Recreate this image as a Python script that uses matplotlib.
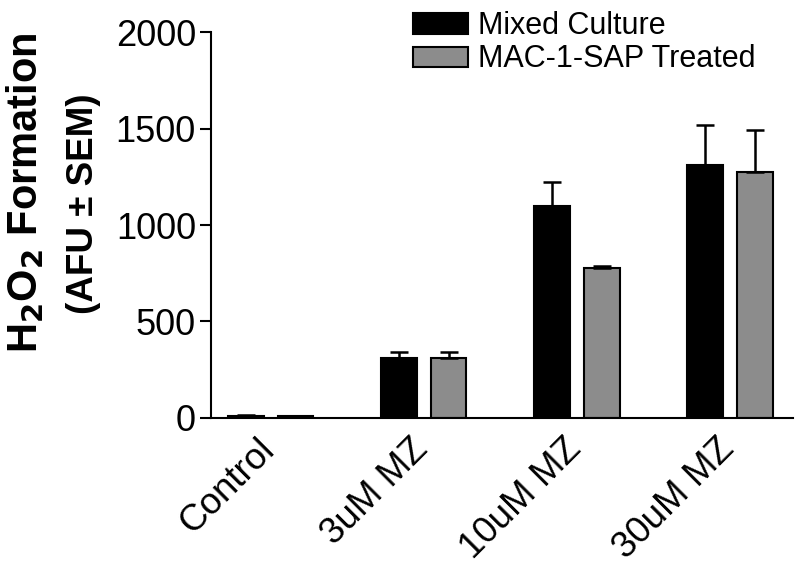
import matplotlib
matplotlib.use("Agg")
import matplotlib.pyplot as plt
import matplotlib.transforms as mtransforms
import numpy as np

plt.rcParams['font.family'] = ['Liberation Sans', 'DejaVu Sans']

categories = ["Control", "3uM MZ", "10uM MZ", "30uM MZ"]
mixed = [12, 311, 1097, 1310]
mixed_err = [3, 33, 128, 211]
mac = [9, 310, 777, 1275]
mac_err = [3, 34, 12, 220]
series_names = ["Mixed Culture", "MAC-1-SAP Treated"]
yticks = [0, 500, 1000, 1500, 2000]

fig = plt.figure(figsize=(8, 5.67), dpi=100)
ax = fig.add_axes([0.264, 0.263, 0.727, 0.680])

x = np.arange(len(categories))
w = 0.23
off = 0.163
ax.bar(x - off, mixed, w, color='black', edgecolor='black', linewidth=1.5,
       yerr=[np.zeros(4), mixed_err], error_kw=dict(ecolor='black', elinewidth=1.8, capsize=6.5, capthick=1.8),
       label=series_names[0])
ax.bar(x + off, mac, w, color='#8c8c8c', edgecolor='black', linewidth=1.5,
       yerr=[np.zeros(4), mac_err], error_kw=dict(ecolor='black', elinewidth=1.8, capsize=6.5, capthick=1.8),
       label=series_names[1])

ax.set_xlim(-0.39, 3.41)
ax.set_ylim(0, 2000)
ax.set_yticks(yticks)
ax.set_yticklabels([str(v) for v in yticks], fontsize=26)
ax.set_xticks(x)
ax.set_xticklabels(categories, rotation=45, ha='right', rotation_mode='anchor', fontsize=26.5)
ax.tick_params(axis='x', length=0, pad=10)
ax.tick_params(axis='y', length=8, width=1.5, pad=3)
shift = mtransforms.ScaledTranslation(-14 / 100, 0, fig.dpi_scale_trans)
for lab in ax.get_xticklabels():
    lab.set_transform(lab.get_transform() + shift)
for s in ['top', 'right']:
    ax.spines[s].set_visible(False)
for s in ['left', 'bottom']:
    ax.spines[s].set_linewidth(1.5)

fig.text(0.031, 0.66, r"H$_\mathbf{2}$O$_\mathbf{2}$ Formation", rotation=90, fontsize=30,
         fontweight='bold', ha='center', va='center')
fig.text(0.104, 0.64, "(AFU \u00b1 SEM)", rotation=90, fontsize=26.5,
         fontweight='bold', ha='center', va='center')

leg = ax.legend(loc='upper left', bbox_to_anchor=(0.326, 1.086), fontsize=22, frameon=False,
                handlelength=1.8, handleheight=0.65, handletextpad=0.33, labelspacing=0.1,
                borderaxespad=0)

fig.savefig("out.png", dpi=100)
